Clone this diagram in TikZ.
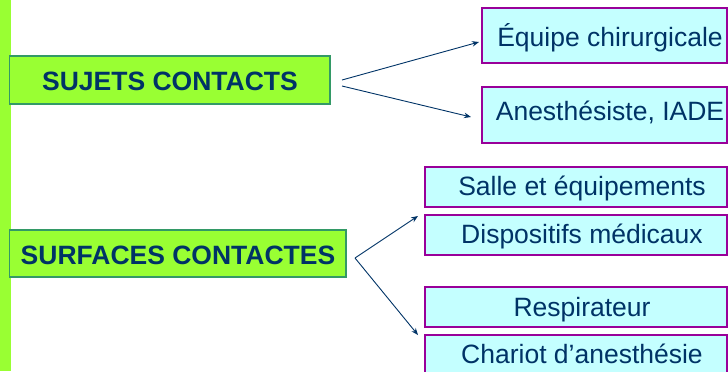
\documentclass[tikz,border=0pt]{standalone}
\usepackage{fontspec}
\setmainfont{Liberation Sans}
\usetikzlibrary{arrows.meta}
\definecolor{navy}{HTML}{003366}
\definecolor{lime}{HTML}{99FF33}
\definecolor{limeborder}{HTML}{339966}
\definecolor{purp}{HTML}{990099}
\definecolor{lcyan}{HTML}{C4FFFF}
\begin{document}
\begin{tikzpicture}[x=1bp,y=-1bp,
  mainbox/.style={draw=limeborder,line width=1.4bp,fill=lime,inner sep=0pt},
  subbox/.style={draw=purp,line width=2.4bp,fill=lcyan,inner sep=0pt},
  maintxt/.style={text=navy,font=\fontsize{26.5bp}{30bp}\selectfont\bfseries,inner sep=0pt,text height=19bp,text depth=0pt},
  subtxt/.style={text=navy,font=\fontsize{26.5bp}{30bp}\selectfont,inner sep=0pt,text height=19bp,text depth=0pt},
  arr/.style={draw=navy,line width=0.9bp,-{Stealth[length=7bp,width=5.5bp]}}]
\useasboundingbox (0,0) rectangle (728,371);
\fill[lime] (0,0) rectangle (11,371);
% main boxes
\draw[mainbox] (9.5,56) rectangle (330,104);
\node[maintxt] (sujets) at (170,80.5) {SUJETS CONTACTS};
\draw[mainbox] (9.5,230) rectangle (346,277);
\node[maintxt] (surfaces) at (178,254.5) {SURFACES CONTACTES};
% sub boxes upper
\draw[subbox] (482,8) rectangle (727,63);
\node[subtxt] (equipe) at (610,37) {Équipe chirurgicale};
\draw[subbox] (482,87) rectangle (727,143);
\node[subtxt] (anest) at (610,110.5) {Anesthésiste, IADE};
% sub boxes lower
\draw[subbox] (425,167) rectangle (727,207);
\node[subtxt] (salle) at (582,186) {Salle et équipements};
\draw[subbox] (425,215) rectangle (727,255);
\node[subtxt] (dispo) at (582,233.7) {Dispositifs médicaux};
\draw[subbox] (425,287) rectangle (727,327);
\node[subtxt] (respi) at (582,307) {Respirateur};
\draw[subbox] (425,335) rectangle (727,376);
\node[subtxt] (chariot) at (582,353.5) {Chariot d’anesthésie};
% arrows
\coordinate (s1) at (342,80);
\coordinate (s2) at (342,86);
\coordinate (t1) at (479,42);
\coordinate (t2) at (471,117);
\draw[arr] (s1) -- (t1);
\draw[arr] (s2) -- (t2);
\coordinate (f0) at (355,258);
\coordinate (u1) at (418,216);
\coordinate (u2) at (418,335);
\draw[arr] (f0) -- (u1);
\draw[arr] (f0) -- (u2);
\end{tikzpicture}
\end{document}
